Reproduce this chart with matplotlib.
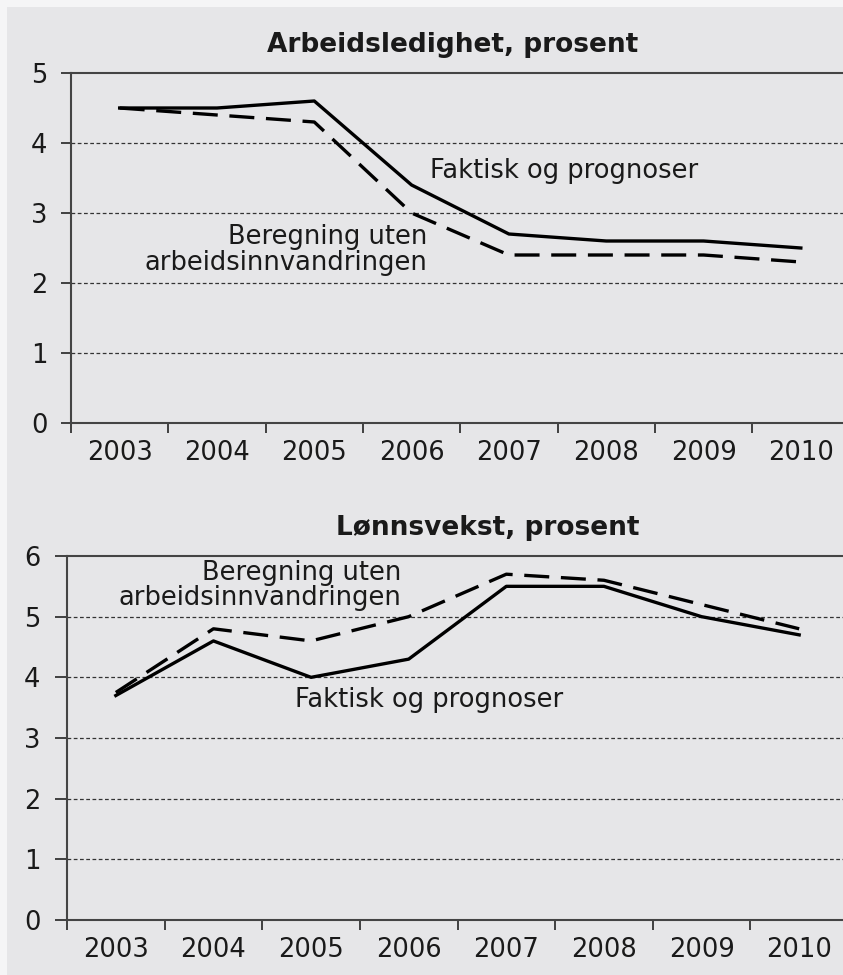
import numpy as np
import matplotlib.pyplot as plt
from matplotlib.patches import Rectangle

years = ['2003', '2004', '2005', '2006', '2007', '2008', '2009', '2010']

# Arbeidsledighet, prosent
ledighet_faktisk = [4.5, 4.5, 4.6, 3.4, 2.7, 2.6, 2.6, 2.5]
ledighet_uten = [4.5, 4.4, 4.3, 3.0, 2.4, 2.4, 2.4, 2.3]

# Lønnsvekst, prosent
lonn_faktisk = [3.7, 4.6, 4.0, 4.3, 5.5, 5.5, 5.0, 4.7]
lonn_uten = [3.75, 4.8, 4.6, 5.0, 5.7, 5.6, 5.2, 4.8]

plt.rcParams['font.family'] = ['DejaVu Sans']
W, H = 843, 975
bg = '#e6e6e8'
fs = 18.5

fig = plt.figure(figsize=(W / 100, H / 100), dpi=100, facecolor='#f5f5f6')
fig.patches.append(Rectangle((7 / W, 0), 1, 1 - 7 / H, transform=fig.transFigure,
                             facecolor=bg, edgecolor='none', zorder=-10))


def px_axes(left, top, right, bottom):
    return fig.add_axes([left / W, 1 - bottom / H, (right - left) / W, (bottom - top) / H])


def setup(ax, ymax, ylen):
    x = np.arange(1, len(years) + 1)
    ax.set_facecolor('none')
    ax.set_xlim(0.5, len(years) + 0.5)
    ax.set_ylim(0, ymax)
    ax.set_xticks(np.arange(0.5, len(years) + 1, 1))
    ax.set_xticklabels([])
    ax.set_xticks(x, minor=True)
    ax.set_xticklabels(years, minor=True, fontsize=fs, color='#1a1a1a')
    ax.tick_params(axis='x', which='major', direction='out', length=7, width=1.3, color='#333333')
    ax.tick_params(axis='x', which='minor', length=0, pad=12)
    ax.set_yticks(range(0, ymax + 1))
    ax.tick_params(axis='y', direction='out', length=ylen, width=1.3, color='#333333',
                   labelsize=fs, labelcolor='#1a1a1a', pad=10)
    for s in ['left', 'bottom', 'top']:
        ax.spines[s].set_color('#444444')
        ax.spines[s].set_linewidth(1.5)
    ax.spines['right'].set_visible(False)
    for v in range(1, ymax):
        ax.axhline(v, color='#333333', linewidth=0.9, linestyle=(0, (3, 2)), zorder=1)
    return x


# Panel 1
ax1 = px_axes(71, 73, 849.5, 423)
x = setup(ax1, 5, 7)
ax1.plot(x, ledighet_faktisk, color='black', linewidth=2.4, zorder=3)
ax1.plot(x, ledighet_uten, color='black', linewidth=2.4, dashes=(7.5, 3.5), zorder=3)
ax1.text(4.19, 3.6, 'Faktisk og prognoser', fontsize=fs, va='center', ha='left',
         color='#1a1a1a')
ax1.text(4.16, 2.47, 'Beregning uten\narbeidsinnvandringen', fontsize=fs,
         va='center', ha='right', multialignment='right', linespacing=1.0,
         color='#1a1a1a')
fig.text(453 / W, 1 - 45 / H, 'Arbeidsledighet, prosent', fontsize=19,
         fontweight='bold', ha='center', va='center', color='#1a1a1a')

# Panel 2
ax2 = px_axes(67, 556, 848, 920)
x = setup(ax2, 6, 9)
ax2.plot(x, lonn_faktisk, color='black', linewidth=2.4, zorder=3)
ax2.plot(x, lonn_uten, color='black', linewidth=2.4, dashes=(7.5, 3.5), zorder=3)
ax2.text(2.84, 3.62, 'Faktisk og prognoser', fontsize=fs, va='center', ha='left',
         color='#1a1a1a')
ax2.text(3.93, 5.52, 'Beregning uten\narbeidsinnvandringen', fontsize=fs,
         va='center', ha='right', multialignment='right', linespacing=0.95,
         color='#1a1a1a')
fig.text(488 / W, 1 - 528 / H, 'Lønnsvekst, prosent', fontsize=19,
         fontweight='bold', ha='center', va='center', color='#1a1a1a')

fig.savefig('out.png', dpi=100, facecolor=fig.get_facecolor())
